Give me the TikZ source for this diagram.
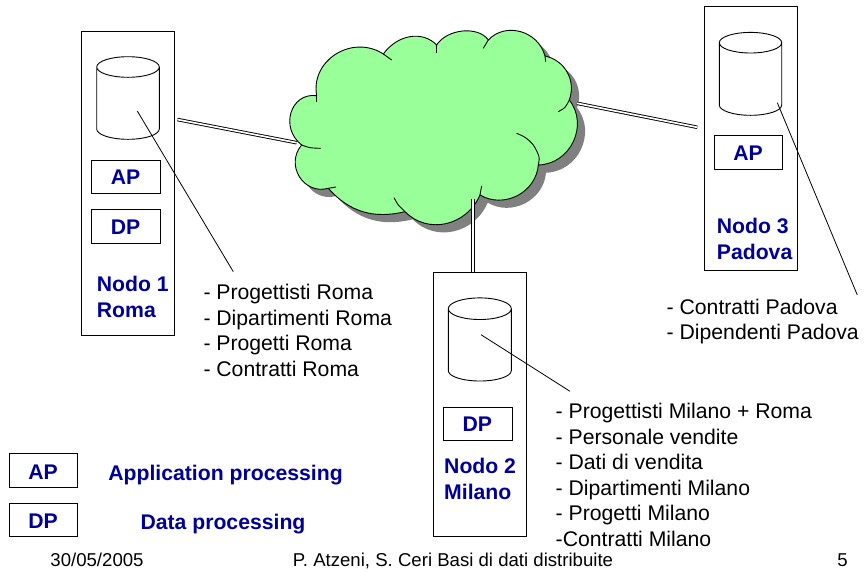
\documentclass[tikz,border=0pt]{standalone}
\usepackage{fontspec}
\usetikzlibrary{calc}
\setmainfont{Liberation Sans}
\definecolor{navy}{HTML}{000099}
\definecolor{cloudgreen}{HTML}{99FF99}
\definecolor{shadowgrey}{HTML}{808080}
\def\lobe#1#2#3#4{.. controls ($1.3333*#2+{#4/2-.1667}*#1+{-#4/2-.1667}*#3$) and ($1.3333*#2+{#4/2-.1667}*#3+{-#4/2-.1667}*#1$) .. #3 }
\begin{document}
\begin{tikzpicture}[x=1pt,y=-1pt,
  sitebox/.style={draw,line width=0.9pt,inner sep=0pt},
  procbox/.style={draw,line width=0.9pt,inner sep=0pt,minimum width=68.5pt,minimum height=33.5pt},
  proctext/.style={anchor=base,inner sep=0pt,text=navy,font=\fontsize{21.2}{24}\selectfont\bfseries},
  sitelabel/.style={anchor=north west,inner sep=0pt,align=left,text=navy,font=\fontsize{21.2}{25.6}\selectfont\bfseries},
  listing/.style={anchor=north west,inner sep=0pt,align=left,font=\fontsize{21.2}{25.6}\selectfont},
  plainlabel/.style={anchor=base,inner sep=0pt,font=\fontsize{18.6}{20}\selectfont},
  boldlabel/.style={anchor=base,inner sep=0pt,text=navy,font=\fontsize{21.2}{24}\selectfont\bfseries},
  wan/.style={double,line width=0.9pt,double distance=1.7pt},
  leader/.style={line width=0.8pt},
  cyl/.style={line width=0.9pt},
  outline/.style={line width=0.9pt},
]
\useasboundingbox (0,0) rectangle (864,571);

% --- the cloud, in coordinates of a 3x grid
\def\cloudpath{
  (110,197)
  \lobe{(110,197)}{(168,72)}{(310,72)}{.63}
  \lobe{(310,72)}{(390,20)}{(470,45)}{.47}
  \lobe{(470,45)}{(548,3)}{(625,30)}{.6}
  \lobe{(625,30)}{(722,5)}{(795,78)}{.58}
  \lobe{(795,78)}{(862,127)}{(868,210)}{.46}
  \lobe{(868,210)}{(880,335)}{(775,405)}{.6}
  \lobe{(775,405)}{(712,497)}{(600,495)}{.55}
  \lobe{(600,495)}{(498,581)}{(375,545)}{.52}
  \lobe{(375,545)}{(248,545)}{(145,475)}{.32}
  \lobe{(145,475)}{(58,440)}{(65,345)}{.7}
  \lobe{(65,345)}{(33,248)}{(110,197)}{.72}
  -- cycle}
\begin{scope}[shift={(287.7,37.7)},x=0.3333pt,y=-0.3333pt]
  \fill[shadowgrey] \cloudpath;
\end{scope}
\begin{scope}[shift={(280,30)},x=0.3333pt,y=-0.3333pt]
  \filldraw[fill=cloudgreen,outline] \cloudpath;
  \draw[outline] (110,197) -- (110,215);
  \draw[outline] (310,72) -- (335,90);
  \draw[outline] (470,45) -- (470,68);
  \draw[outline] (625,30) -- (610,55);
  \draw[outline] (795,78) -- (797,95);
  \draw[outline] plot[smooth] coordinates {(868,210)(855,232)(835,245)};
  \draw[outline] plot[smooth] coordinates {(775,405)(777,380)(760,345)(735,322)(710,310)};
  \draw[outline] (600,495) -- (605,468);
  \draw[outline] plot[smooth] coordinates {(375,545)(355,525)(342,503)};
  \draw[outline] (145,475) -- (168,471);
  \draw[outline] plot[smooth] coordinates {(65,345)(90,353)(122,355)};
\end{scope}

% --- site boxes
\node[sitebox,minimum width=93pt,minimum height=304pt] (n1) at (127.8,183) {};
\node[sitebox,minimum width=93.3pt,minimum height=263.6pt] (n3) at (750.7,138.5) {};
\node[sitebox,minimum width=93.4pt,minimum height=264pt] (n2) at (480,404.3) {};

% --- database cylinders
\draw[cyl] (96.7,67) arc[start angle=180,end angle=-180,x radius=31.3pt,y radius=10.3pt]
  (96.7,67) -- (96.7,129) arc[start angle=180,end angle=360,x radius=31.3pt,y radius=10.3pt] -- (159.3,67);
\draw[cyl] (719.3,42.7) arc[start angle=180,end angle=-180,x radius=31.2pt,y radius=10.3pt]
  (719.3,42.7) -- (719.3,105) arc[start angle=180,end angle=360,x radius=31.2pt,y radius=10.3pt] -- (781.7,42.7);
\draw[cyl] (448.3,308.7) arc[start angle=180,end angle=-180,x radius=31.5pt,y radius=10.8pt]
  (448.3,308.7) -- (448.3,370.7) arc[start angle=180,end angle=360,x radius=31.5pt,y radius=10.3pt] -- (511.3,308.7);

% --- processing boxes
\node[procbox] (ap1) at (125.8,177) {};
\node[procbox] (dp1) at (125.8,226.5) {};
\node[procbox] (ap3) at (748.3,152.5) {};
\node[procbox] (dp2) at (477.7,423.7) {};
\node[procbox] (apl) at (43.3,470.5) {};
\node[procbox] (dpl) at (43.3,520) {};
\node[proctext] (ap1t) at (125.5,184.8) {AP};
\node[proctext] (dp1t) at (125.5,234.5) {DP};
\node[proctext] (ap3t) at (748,160.5) {AP};
\node[proctext] (dp2t) at (477.3,431.7) {DP};
\node[proctext] (aplt) at (43,479) {AP};
\node[proctext] (dplt) at (43,528) {DP};

% --- site labels
\node[sitelabel] (l1) at (96.7,276) {Nodo 1\\Roma};
\node[sitelabel] (l3) at (716.7,218) {Nodo 3\\Padova};
\node[sitelabel] (l2) at (444,458) {Nodo 2\\Milano};

% --- fragment lists
\node[listing] (t1) at (203.3,284) {- Progettisti Roma\\- Dipartimenti Roma\\- Progetti Roma\\- Contratti Roma};
\node[listing] (t3) at (666.5,298.5) {- Contratti Padova\\- Dipendenti Padova};
\node[listing] (t2) at (555.5,403) {- Progettisti Milano + Roma\\- Personale vendite\\- Dati di vendita\\- Dipartimenti Milano\\- Progetti Milano\\-Contratti Milano};

% --- network links
\coordinate (c1) at (296.7,142.7);
\coordinate (c3) at (577,103.3);
\coordinate (c2) at (473,199.3);
\coordinate (s1) at (177.3,119.5);
\coordinate (s3) at (697.3,127.3);
\coordinate (s2) at (473,272);
\draw[wan] (s1) -- (c1);
\draw[wan] (s3) -- (c3);
\draw[wan] (s2) -- (c2);

% --- leaders from database to list
\coordinate (d1) at (137.3,111);
\coordinate (d3) at (777.3,102.7);
\coordinate (d2) at (481,334.7);
\coordinate (e1) at (233.3,271.7);
\coordinate (e3) at (857.3,295);
\coordinate (e2) at (570,391.3);
\draw[leader] (d1) -- (e1);
\draw[leader] (d3) -- (e3);
\draw[leader] (d2) -- (e2);

% --- legend
\node[boldlabel] (la) at (225.5,480.7) {Application processing};
\node[boldlabel] (ld) at (223,529) {Data processing};

% --- footer
\node[plainlabel] (fd) at (97,566) {30/05/2005};
\node[plainlabel] (ft) at (453,566) {P. Atzeni, S. Ceri Basi di dati distribuite};
\node[plainlabel] (fp) at (842.5,566) {5};
\end{tikzpicture}
\end{document}
